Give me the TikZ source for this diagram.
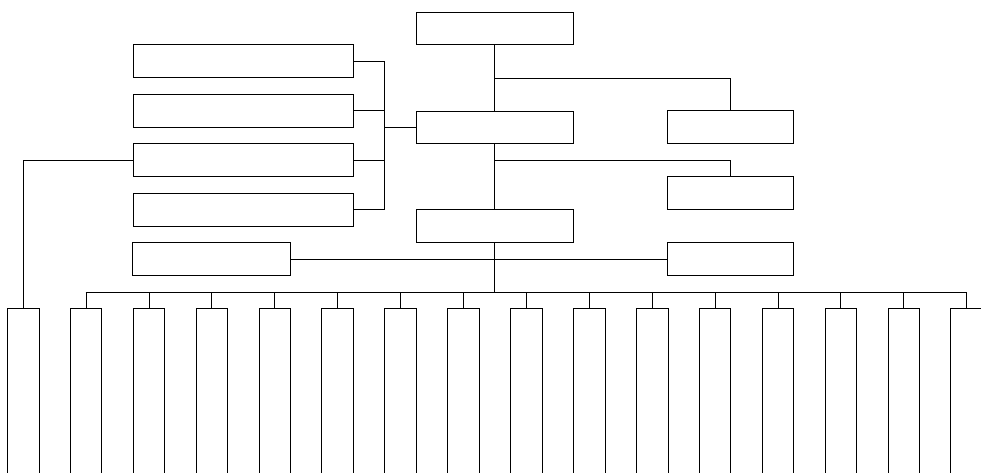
\documentclass[tikz,border=0pt]{standalone}
\begin{document}
\begin{tikzpicture}[x=1pt,y=-1pt,
  box/.style={draw,rectangle,inner sep=0pt,outer sep=0pt,line width=0.8pt},
  wbox/.style={box,minimum width=157.3pt,minimum height=32.7pt},
  rbox/.style={box,minimum width=126pt,minimum height=33pt},
  lbox/.style={box,minimum width=220.3pt,minimum height=33pt},
  col/.style={box,minimum width=31.6pt,minimum height=200pt,anchor=north},
  conn/.style={line width=0.8pt}]
\useasboundingbox (0,0) rectangle (981,473);
\clip (0,0) rectangle (981,473);
% center boxes
\node[wbox] (top) at (494.7,28.3) {};
\node[wbox] (mid) at (494.7,127.3) {};
\node[wbox] (low) at (494.7,226) {};
% right boxes
\node[rbox] (r1) at (730.3,127.3) {};
\node[rbox] (r2) at (730.3,193.3) {};
\node[rbox] (r3) at (730.3,259.2) {};
% left boxes
\node[lbox] (l1) at (243.2,61.2) {};
\node[lbox] (l2) at (243.2,110.7) {};
\node[lbox] (l3) at (243.2,160.2) {};
\node[lbox] (l4) at (243.2,209.7) {};
\node[box,minimum width=157.6pt,minimum height=33pt] (l5) at (211.5,259.2) {};
% columns
\foreach \k in {1,...,16} {
  \node[col] (c\k) at ({23.1+62.9*(\k-1)},308.7) {};
}
% coordinates
\coordinate (b1) at (494.7,78);
\coordinate (b2) at (494.7,160.7);
\coordinate (lbt) at (384.3,61.2);
\coordinate (lbb) at (384.3,209.7);
\coordinate (lbm) at (384.3,127.3);
\coordinate (busc) at (494.7,292);
\coordinate (busl) at (85.7,292);
\coordinate (busr) at (966.6,292);
% connectors
\draw[conn] (top.south) -- (mid.north);
\draw[conn] (b1) -| (r1.north);
\draw[conn] (mid.south) -- (low.north);
\draw[conn] (b2) -| (r2.north);
\draw[conn] (l1.east) -- (lbt);
\draw[conn] (l2.east) -- (l2.east -| lbt);
\draw[conn] (l3.east) -- (l3.east -| lbt);
\draw[conn] (l4.east) -- (lbb);
\draw[conn] (lbt) -- (lbb);
\draw[conn] (lbm) -- (mid.west);
\draw[conn] (l3.west) -| (c1.north);
\draw[conn] (l5.east) -- (r3.west);
\draw[conn] (low.south) -- (busc);
\draw[conn] (busl) -- (busr);
\foreach \k in {2,...,16} {
  \draw[conn] (c\k.north |- busc) -- (c\k.north);
}
\end{tikzpicture}
\end{document}
